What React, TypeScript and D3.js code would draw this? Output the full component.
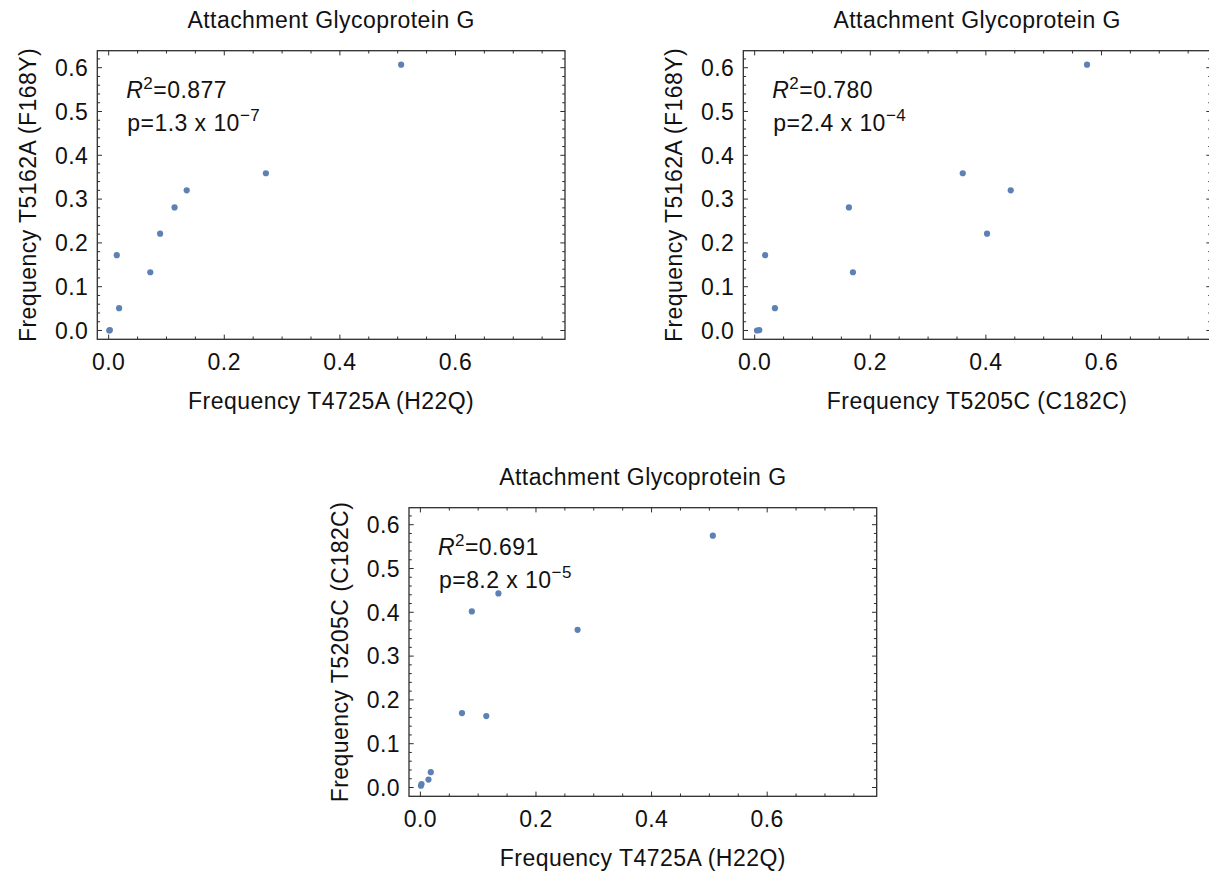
import React from 'react';
import * as d3 from 'd3';

// Sample allele frequencies (one entry per sample)
const freqH22Q = [0.001, 0.002, 0.014, 0.018, 0.072, 0.089, 0.114, 0.135, 0.272, 0.506];
const freqF168Y = [0.0, 0.001, 0.172, 0.051, 0.133, 0.221, 0.281, 0.32, 0.359, 0.607];
const freqC182C = [0.004, 0.008, 0.018, 0.035, 0.17, 0.402, 0.163, 0.443, 0.36, 0.575];

const xTickValues = [0, 0.2, 0.4, 0.6];
const yTickValues = [0, 0.1, 0.2, 0.3, 0.4, 0.5, 0.6];
const panelTitles = ['Attachment Glycoprotein G', 'Attachment Glycoprotein G', 'Attachment Glycoprotein G'];
const xLabels = ['Frequency T4725A (H22Q)', 'Frequency T5205C (C182C)', 'Frequency T4725A (H22Q)'];
const yLabels = ['Frequency T5162A (F168Y)', 'Frequency T5162A (F168Y)', 'Frequency T5205C (C182C)'];
const r2Values = ['0.877', '0.780', '0.691'];
const pMantissas = ['1.3', '2.4', '8.2'];
const pExponents = ['\u22127', '\u22124', '\u22125'];

const xSeries = [freqH22Q, freqC182C, freqH22Q];
const ySeries = [freqF168Y, freqF168Y, freqC182C];

// layout
const W = 467.7;
const H = 288.6;
const origins = [
  [97.3, 50.7],
  [743.3, 50.7],
  [409, 507.7],
];
const X_DOMAIN = [-0.0197, 0.7895];
const Y_DOMAIN = [-0.0201, 0.6388];
const FONT = '"Liberation Sans", Arial, Helvetica, sans-serif';
const FS = 23;
const SUP = 17;
const LS = 0.45;
const POINT_COLOR = '#5e81b5';
const FRAME_COLOR = '#2e2e2e';

function Panel({ idx }: { idx: number }) {
  const [ox, oy] = origins[idx];
  const x = d3.scaleLinear().domain(X_DOMAIN).range([0, W]);
  const y = d3.scaleLinear().domain(Y_DOMAIN).range([H, 0]);
  const xs = xSeries[idx];
  const ys = ySeries[idx];

  const eps = 1e-9;
  const isMajor = (v: number, step: number) => Math.abs(v / step - Math.round(v / step)) < 1e-6;
  const xMinor = d3.range(0, X_DOMAIN[1] + eps, 0.05).filter((v) => !isMajor(v, 0.2));
  const yMinor = d3
    .range(-0.02, Y_DOMAIN[1], 0.02)
    .filter((v) => v > Y_DOMAIN[0] + 0.002 && v < Y_DOMAIN[1] - 0.002 && !isMajor(v, 0.1));
  const xMajor = d3.range(0, X_DOMAIN[1], 0.2);
  const yMajor = yTickValues;
  const MAJ = 4.7;
  const MIN = 2.8;
  const fmt = d3.format('.1f');

  const tickLines: React.ReactNode[] = [];
  xMajor.forEach((v, i) => {
    const px = x(v);
    tickLines.push(<line key={`xb${i}`} x1={px} x2={px} y1={H} y2={H - MAJ} />);
    tickLines.push(<line key={`xt${i}`} x1={px} x2={px} y1={0} y2={MAJ} />);
  });
  xMinor.forEach((v, i) => {
    const px = x(v);
    tickLines.push(<line key={`xbm${i}`} x1={px} x2={px} y1={H} y2={H - MIN} />);
    tickLines.push(<line key={`xtm${i}`} x1={px} x2={px} y1={0} y2={MIN} />);
  });
  yMajor.forEach((v, i) => {
    const py = y(v);
    tickLines.push(<line key={`yl${i}`} x1={0} x2={MAJ} y1={py} y2={py} />);
    tickLines.push(<line key={`yr${i}`} x1={W} x2={W - MAJ} y1={py} y2={py} />);
  });
  yMinor.forEach((v, i) => {
    const py = y(v);
    tickLines.push(<line key={`ylm${i}`} x1={0} x2={MIN} y1={py} y2={py} />);
    tickLines.push(<line key={`yrm${i}`} x1={W} x2={W - MIN} y1={py} y2={py} />);
  });

  return (
    <g transform={`translate(${ox},${oy})`} fontFamily={FONT} fontSize={FS} letterSpacing={LS} fill="#111">
      <text x={W / 2} y={-23} textAnchor="middle">
        {panelTitles[idx]}
      </text>
      <rect x={0} y={0} width={W} height={H} fill="none" stroke={FRAME_COLOR} strokeWidth={1.3} />
      <g stroke={FRAME_COLOR} strokeWidth={1}>{tickLines}</g>
      {xTickValues.map((v) => (
        <text key={`xl${v}`} x={x(v)} y={H + 31} textAnchor="middle">
          {fmt(v)}
        </text>
      ))}
      {yTickValues.map((v) => (
        <text key={`yl${v}`} x={-9} y={y(v)} dy="0.36em" textAnchor="end">
          {fmt(v)}
        </text>
      ))}
      <text x={W / 2} y={H + 70} textAnchor="middle">
        {xLabels[idx]}
      </text>
      <text transform={`translate(${-61},${H / 2}) rotate(-90)`} textAnchor="middle">
        {yLabels[idx]}
      </text>
      <text x={29} y={47}>
        <tspan fontStyle="italic">R</tspan>
        <tspan dy={-9} fontSize={SUP}>2</tspan>
        <tspan dy={9}>={r2Values[idx]}</tspan>
      </text>
      <text x={30} y={80}>
        <tspan>p={pMantissas[idx]} x 10</tspan>
        <tspan dy={-10} fontSize={SUP}>{pExponents[idx]}</tspan>
      </text>
      <g fill={POINT_COLOR}>
        {xs.map((v, i) => (
          <circle key={i} cx={x(v)} cy={y(ys[i])} r={3.1} />
        ))}
      </g>
    </g>
  );
}

export default function App() {
  return (
    <svg
      width={1209}
      height={878}
      viewBox="0 0 1209 878"
      style={{ position: 'absolute', left: 0, top: 0, background: '#fff' }}
    >
      <rect x={0} y={0} width={1209} height={878} fill="#fff" />
      {[0, 1, 2].map((i) => (
        <Panel key={i} idx={i} />
      ))}
    </svg>
  );
}
